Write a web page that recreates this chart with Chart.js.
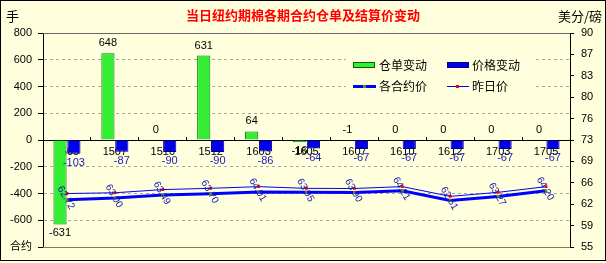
<!DOCTYPE html>
<html>
<head>
<meta charset="utf-8">
<script src="https://cdn.jsdelivr.net/npm/chart.js@4.4.1/dist/chart.umd.min.js"></script>
<style>
  body { margin: 0; background: #fff; }
  canvas { display: block; }
</style>
</head>
<body>
<canvas id="myChart" width="606" height="263"></canvas>
<script>
// data
const contracts = ['1505', '1507', '1510', '1512', '1603', '1605', '1607', '1610', '1612', '1703', '1705'];
const receiptChange = [-631, 648, 0, 631, 64, -16, -1, 0, 0, 0, 0];
const priceChange = [-103, -87, -90, -90, -86, -64, -67, -67, -67, -67, -67];
const settlePrice = [62.72, 63.00, 63.49, 63.70, 64.01, 63.95, 63.90, 64.21, 62.61, 63.27, 64.20];
const prevPrice = [63.75, 63.87, 64.39, 64.60, 64.87, 64.59, 64.57, 64.88, 63.28, 63.94, 64.87];

const FONT = '"Liberation Sans", "Noto Sans CJK SC", sans-serif';
const CJK = '"Noto Sans CJK SC", sans-serif';
const BG = '#ffffdd';

Chart.defaults.font.family = FONT;
Chart.defaults.font.size = 11;
Chart.defaults.color = '#000';

// background, frame lines, value labels, title and legend
const decorations = {
  id: 'decorations',
  beforeDraw(chart) {
    const ctx = chart.ctx;
    ctx.save();
    ctx.fillStyle = BG;
    ctx.fillRect(0, 0, chart.width, chart.height);
    ctx.restore();
  },
  beforeDatasetsDraw(chart) {
    const { ctx, chartArea: a } = chart;
    ctx.save();
    ctx.lineWidth = 1;
    ctx.strokeStyle = '#666';
    ctx.beginPath();
    ctx.moveTo(a.left, a.top + 0.5);
    ctx.lineTo(a.right, a.top + 0.5);
    ctx.stroke();
    ctx.strokeStyle = '#808040';
    ctx.beginPath();
    ctx.moveTo(a.left, a.bottom + 0.5);
    ctx.lineTo(a.right, a.bottom + 0.5);
    ctx.stroke();
    // legend box covers the grid lines
    ctx.fillStyle = BG;
    ctx.fillRect(346, 54, 188, 42);
    ctx.restore();
  },
  afterDatasetsDraw(chart) {
    const ctx = chart.ctx;
    ctx.save();
    ctx.textAlign = 'center';
    ctx.textBaseline = 'middle';
    ctx.font = '11px ' + FONT;

    // 仓单变动 labels
    ctx.fillStyle = '#000';
    chart.getDatasetMeta(0).data.forEach((bar, i) => {
      const v = receiptChange[i];
      const y = v <= -10 ? bar.y + 9 : bar.y - 10;
      ctx.fillText(String(v), bar.x, y);
    });

    // 价格变动 labels
    ctx.fillStyle = '#1a1ab4';
    chart.getDatasetMeta(1).data.forEach((bar, i) => {
      ctx.fillText(String(priceChange[i]), bar.x, bar.y + 9);
    });

    // 各合约价 labels, rotated
    ctx.fillStyle = '#1414b8';
    ctx.font = '10px ' + FONT;
    chart.getDatasetMeta(2).data.forEach((pt, i) => {
      ctx.save();
      ctx.translate(pt.x - 1, pt.y - 2);
      ctx.rotate(Math.PI / 3);
      ctx.fillText(settlePrice[i].toFixed(2), 0, 0);
      ctx.restore();
    });
    ctx.restore();
  },
  afterDraw(chart) {
    const ctx = chart.ctx;
    ctx.save();
    ctx.textBaseline = 'middle';

    // title and units
    ctx.fillStyle = '#ff0000';
    ctx.font = 'bold 13px ' + CJK;
    ctx.textAlign = 'center';
    ctx.fillText('当日纽约期棉各期合约仓单及结算价变动', 303, 15);
    ctx.fillStyle = '#000';
    ctx.font = '13px ' + CJK;
    ctx.textAlign = 'left';
    ctx.fillText('手', 6, 16);
    ctx.textAlign = 'right';
    ctx.fillText('美分/磅', 602, 16);

    // legend
    ctx.font = '12px ' + CJK;
    ctx.textAlign = 'left';
    ctx.fillStyle = '#33ee33';
    ctx.fillRect(353, 62, 22, 6);
    ctx.strokeStyle = '#006600';
    ctx.strokeRect(353.5, 62.5, 21, 5);
    ctx.fillStyle = '#000';
    ctx.fillText('仓单变动', 379, 65);

    ctx.fillStyle = '#0000ee';
    ctx.fillRect(447, 62, 22, 6);
    ctx.strokeStyle = '#000080';
    ctx.strokeRect(447.5, 62.5, 21, 5);
    ctx.fillStyle = '#000';
    ctx.fillText('价格变动', 472, 65);

    ctx.strokeStyle = '#0000ff';
    ctx.lineWidth = 3;
    ctx.beginPath();
    ctx.moveTo(353, 86.5);
    ctx.lineTo(376, 86.5);
    ctx.stroke();
    ctx.fillStyle = '#4a9a2a';
    ctx.fillRect(363, 85, 3, 3);
    ctx.fillStyle = '#000';
    ctx.fillText('各合约价', 379, 86);

    ctx.lineWidth = 1;
    ctx.beginPath();
    ctx.moveTo(447, 86.5);
    ctx.lineTo(469, 86.5);
    ctx.stroke();
    ctx.fillStyle = '#ff0000';
    ctx.fillRect(456, 85, 3, 3);
    ctx.fillStyle = '#000';
    ctx.fillText('昨日价', 472, 86);

    // outer frame
    ctx.strokeStyle = '#000';
    ctx.lineWidth = 1;
    ctx.strokeRect(0.5, 0.5, chart.width - 1, chart.height - 3);
    ctx.restore();
  }
};

const ctx = document.getElementById('myChart').getContext('2d');

new Chart(ctx, {
  type: 'bar',
  data: {
    labels: contracts,
    datasets: [
      {
        label: '仓单变动',
        data: receiptChange,
        yAxisID: 'y',
        backgroundColor: '#33ee33',
        borderColor: '#117711',
        borderWidth: 1,
        categoryPercentage: 0.58,
        barPercentage: 0.95,
        order: 2
      },
      {
        label: '价格变动',
        data: priceChange,
        yAxisID: 'y',
        backgroundColor: '#0000ee',
        borderColor: '#000080',
        borderWidth: 1,
        categoryPercentage: 0.58,
        barPercentage: 0.95,
        order: 3
      },
      {
        type: 'line',
        label: '各合约价',
        data: settlePrice,
        yAxisID: 'y1',
        borderColor: '#0000ff',
        borderWidth: 3,
        pointStyle: 'rect',
        pointRadius: 2,
        pointBackgroundColor: '#4a9a2a',
        pointBorderWidth: 0,
        order: 1
      },
      {
        type: 'line',
        label: '昨日价',
        data: prevPrice,
        yAxisID: 'y1',
        borderColor: '#0000ff',
        borderWidth: 1,
        pointStyle: 'rect',
        pointRadius: 2,
        pointBackgroundColor: '#ff0000',
        pointBorderWidth: 0,
        order: 0
      }
    ]
  },
  options: {
    responsive: false,
    animation: false,
    devicePixelRatio: 1,
    events: [],
    layout: { padding: { top: 33, bottom: 16, left: 0, right: 0 } },
    plugins: {
      legend: { display: false },
      tooltip: { enabled: false }
    },
    scales: {
      x: {
        position: { y: 0 },
        offset: true,
        grid: { drawOnChartArea: false, offset: true, tickLength: -4, tickColor: '#000' },
        border: { color: '#000' },
        ticks: { padding: 9, maxRotation: 0, autoSkip: false, color: '#000' }
      },
      y: {
        position: 'left',
        min: -800,
        max: 800,
        ticks: { stepSize: 200, padding: 6, color: '#000', callback: v => (v === -800 ? '合约' : v) },
        grid: {
          color: c => ([800, 0, -800].includes(c.tick.value) ? 'rgba(0,0,0,0)' : '#a8a8a8'),
          tickColor: '#000',
          tickLength: 5
        },
        border: { color: '#000', dash: [3, 3] },
        afterFit: s => { s.width = 43; }
      },
      y1: {
        position: 'right',
        min: 55,
        max: 90,
        ticks: { stepSize: 3.5, padding: 7, color: '#000', callback: v => Math.round(v) },
        grid: { drawOnChartArea: false, tickColor: '#000', tickLength: 4 },
        border: { color: '#000' },
        afterFit: s => { s.width = 36; }
      }
    }
  },
  plugins: [decorations]
});
</script>
</body>
</html>
